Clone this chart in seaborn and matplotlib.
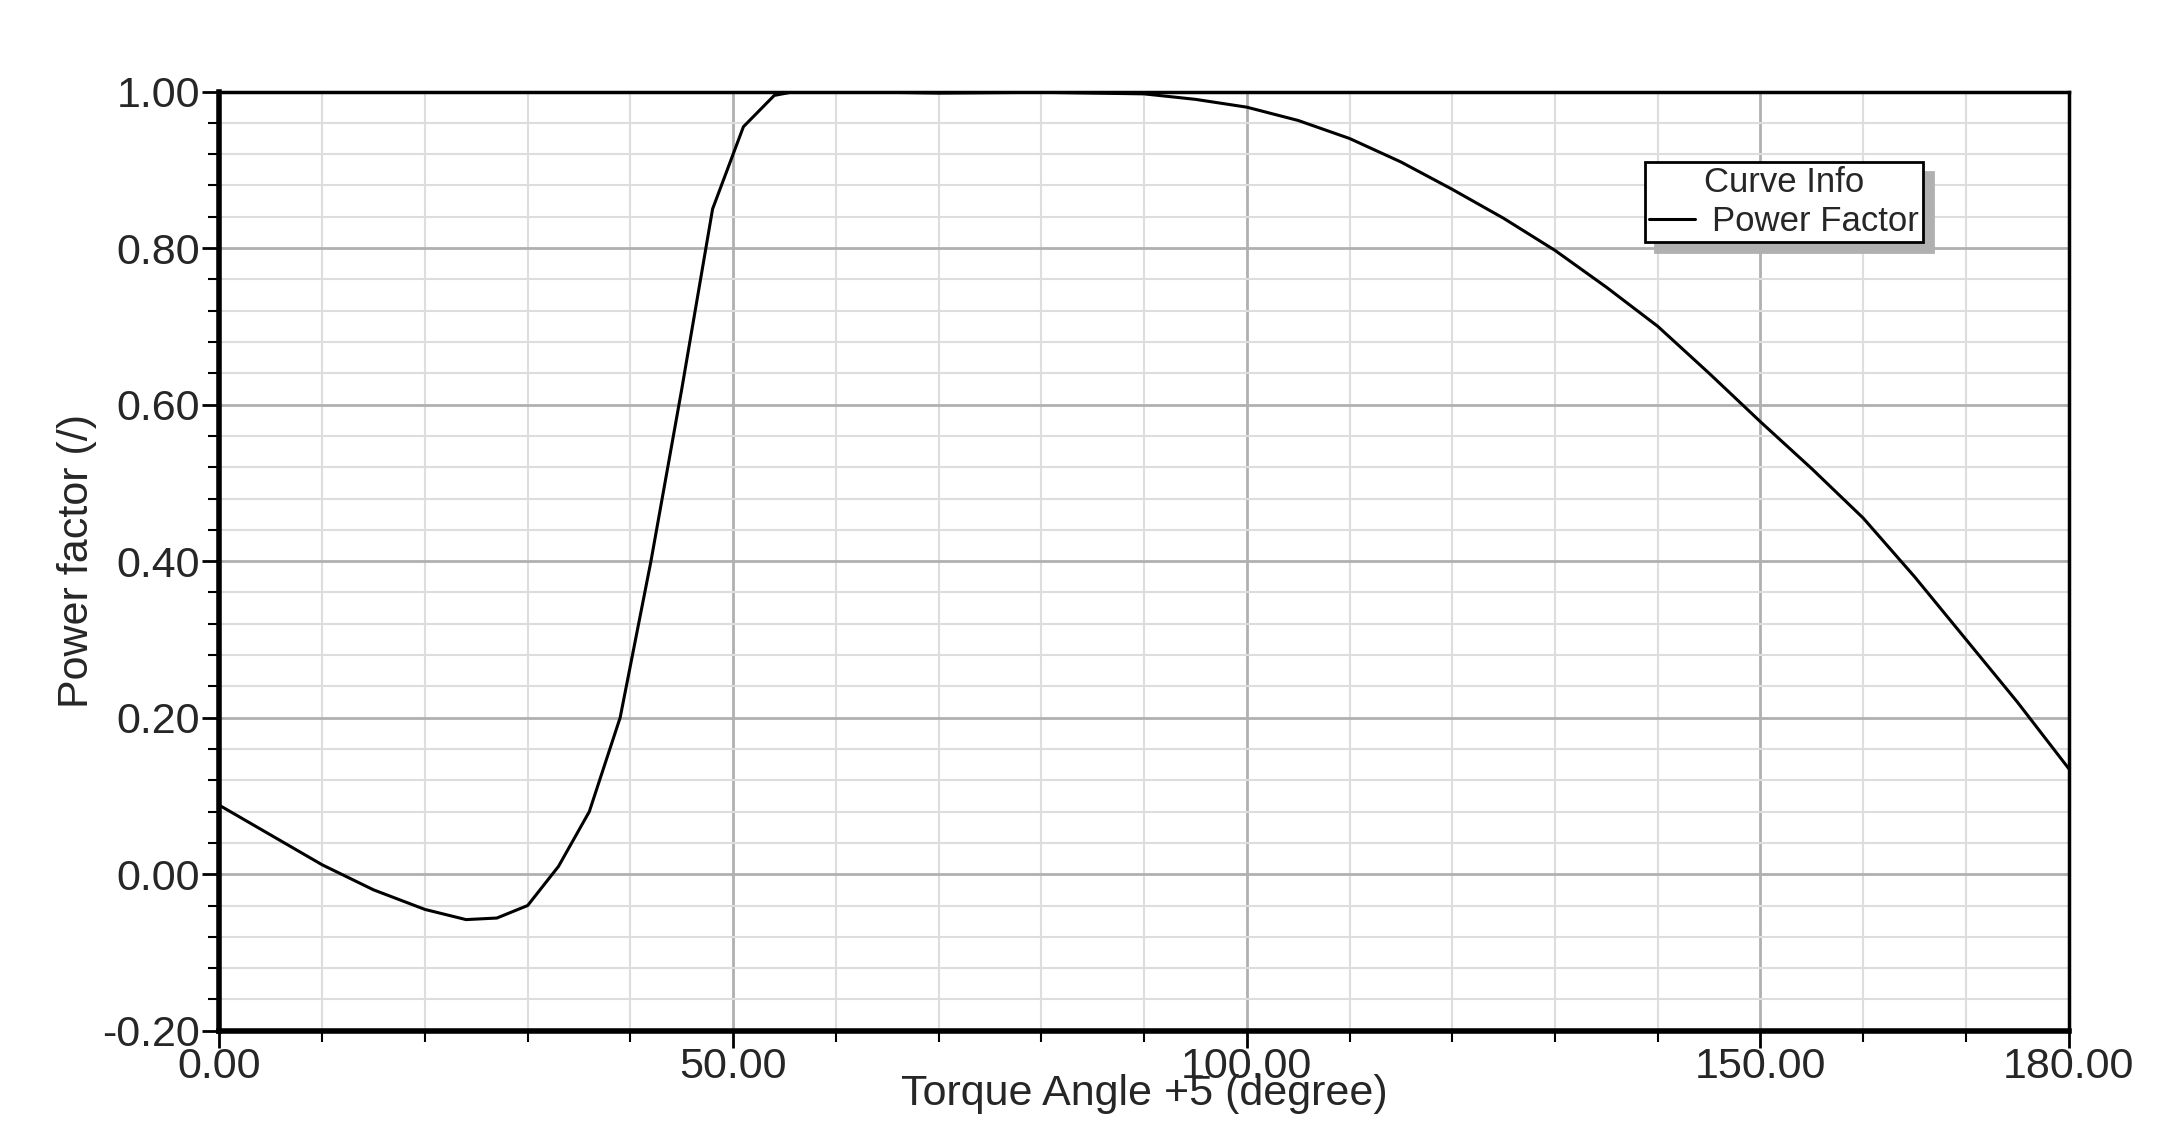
import matplotlib
matplotlib.use("Agg")
import matplotlib.pyplot as plt
import seaborn as sns
import numpy as np
import pandas as pd
from matplotlib.ticker import MultipleLocator, FormatStrFormatter

angle = [0, 5, 10, 15, 20, 24, 27, 30, 33, 36, 39, 42, 45, 48, 51, 54, 56, 60, 70, 80, 90,
         95, 100, 105, 110, 115, 120, 125, 130, 135, 140, 145, 150, 155, 160, 165, 170, 175, 180]
pf = [0.088, 0.05, 0.012, -0.02, -0.045, -0.058, -0.056, -0.04, 0.01, 0.08, 0.20, 0.40,
      0.62, 0.85, 0.955, 0.995, 1.0, 1.0, 0.998, 0.999, 0.997,
      0.99, 0.98, 0.963, 0.94, 0.91, 0.875, 0.838, 0.797, 0.75, 0.70, 0.64, 0.578, 0.518,
      0.455, 0.38, 0.30, 0.22, 0.135]
df = pd.DataFrame({"angle": angle, "pf": pf})

sns.set_theme(style="white")
plt.rcParams['font.family'] = ['Liberation Sans', 'DejaVu Sans']

fig = plt.figure(figsize=(21.73, 11.44), dpi=100)
ax = fig.add_axes([0.101, 0.099, 0.851, 0.821])
sns.lineplot(data=df, x="angle", y="pf", color="black", lw=2.2, ax=ax, label="Power Factor")
ax.set_xlim(0, 180)
ax.set_ylim(-0.2, 1.0)
ax.xaxis.set_major_locator(MultipleLocator(50))
ax.xaxis.set_minor_locator(MultipleLocator(10))
ax.yaxis.set_major_locator(MultipleLocator(0.2))
ax.yaxis.set_minor_locator(MultipleLocator(0.04))
ax.xaxis.set_major_formatter(FormatStrFormatter("%.2f"))
ax.yaxis.set_major_formatter(FormatStrFormatter("%.2f"))
ax.set_xticks(list(ax.get_xticks()) + [180])
ax.set_xlim(0, 180)
ax.grid(which="major", color="#b0b0b0", lw=2)
ax.grid(which="minor", color="#dddddd", lw=1.5)
ax.tick_params(which="major", direction="out", length=12, width=2, labelsize=31, color="black", left=True, bottom=True)
ax.tick_params(which="minor", direction="out", length=8, width=1.5, color="black", left=True, bottom=True)
ax.tick_params(axis="x", pad=0)
ax.tick_params(axis="y", pad=2)
for s in ax.spines.values():
    s.set_color("black")
    s.set_linewidth(2.5)
ax.spines["left"].set_linewidth(4)
ax.spines["bottom"].set_linewidth(4)
ax.set_xlabel("Torque Angle +5 (degree)", fontsize=31, labelpad=-10)
ax.set_ylabel("Power factor (/)", fontsize=31, labelpad=4)
leg = ax.legend(title="Curve Info", loc="upper left", bbox_to_anchor=(0.771, 0.925),
                fancybox=False, shadow={"color": "#b0b0b0", "alpha": 1, "ox": 7, "oy": -7},
                framealpha=1, edgecolor="black", fontsize=25, title_fontsize=25,
                handlelength=1.3, handletextpad=0.5, borderpad=0.15, labelspacing=0.1,
                borderaxespad=0)
leg.get_frame().set_linewidth(2)
# extra bottom padding inside the legend box
leg._legend_box.pad = 3
leg._legend_box.sep = 4
fig.savefig("out.png", dpi=100)
